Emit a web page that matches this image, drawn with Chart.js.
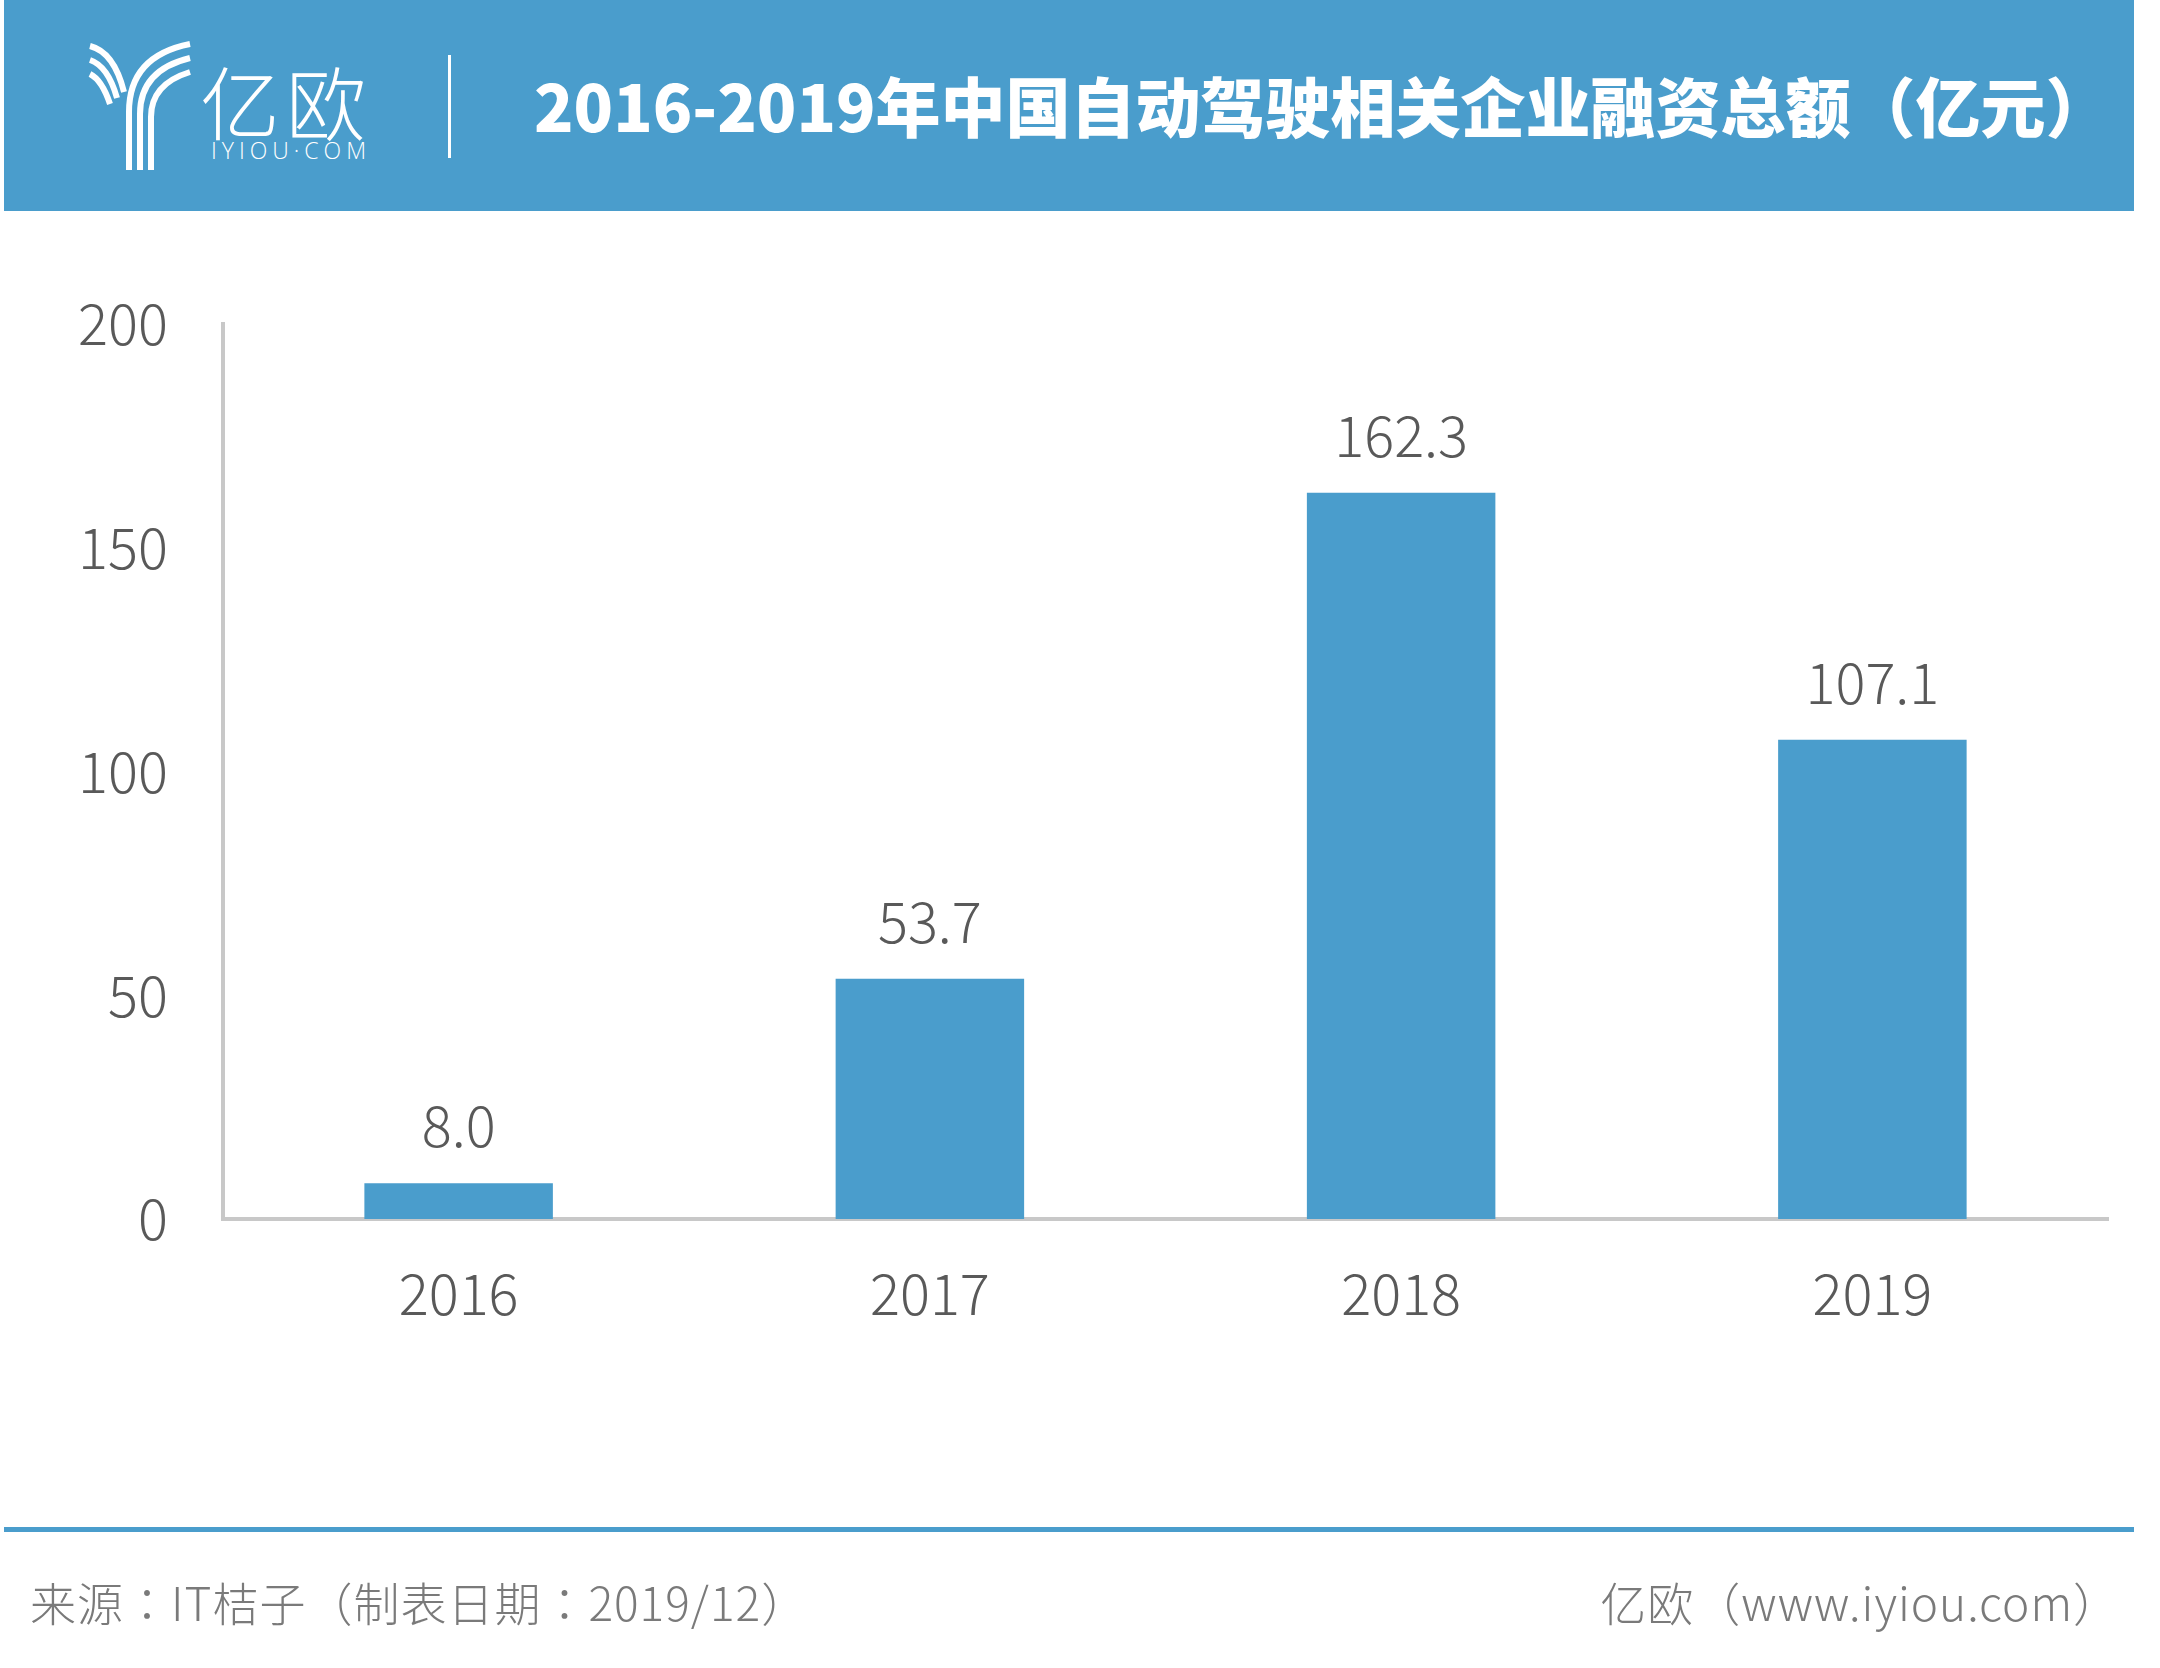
<!DOCTYPE html>
<html>
<head>
<meta charset="utf-8">
<script src="https://cdn.jsdelivr.net/npm/chart.js@4.4.0/dist/chart.umd.min.js"></script>
<style>
  html, body { margin: 0; padding: 0; background: #ffffff; }
  body { width: 2160px; height: 1668px; position: relative; overflow: hidden; font-family: "Noto Sans CJK SC", "Noto Sans", sans-serif; }
  #chartBox { position: absolute; left: 0; top: 0; width: 2160px; height: 1668px; }
  .header { position: absolute; left: 4px; top: 0; width: 2130px; height: 211px; background: #4a9dcc; }
  .logo-cn { position: absolute; left: 200px; top: 44px; font-size: 80px; font-weight: 200; color: #fff; letter-spacing: 6px; line-height: 110px; }
  .logo-en { position: absolute; left: 211px; top: 138px; font-size: 23px; font-weight: 300; color: #fff; letter-spacing: 5px; line-height: 24px; font-family: "Open Sans", sans-serif; }
  .divider { position: absolute; left: 448px; top: 55px; width: 3px; height: 103px; background: #fff; }
  .title { position: absolute; left: 534px; top: 59px; font-size: 65px; font-weight: 900; color: #fff; line-height: 90px; white-space: nowrap; }
  .foot-line { position: absolute; left: 4px; top: 1527px; width: 2130px; height: 5px; background: #4a9dcc; }
  .foot { position: absolute; top: 1572px; font-size: 46px; font-weight: 300; color: #7a7a7a; line-height: 58px; white-space: nowrap; font-family: "Noto Sans CJK TC", "Noto Sans CJK SC", sans-serif; }
</style>
</head>
<body>
<div id="chartBox"><canvas id="barChart"></canvas></div>
<div class="header"></div>
<svg style="position:absolute;left:0;top:0" width="2160" height="211">
  <g fill="none" stroke="#ffffff" stroke-width="6" stroke-linecap="butt">
    <path d="M 129 170 L 129 112 Q 129 56 190 44"/>
    <path d="M 140 170 L 140 114 Q 140 70 190 58"/>
    <path d="M 151 170 L 151 117 Q 151 84 190 72"/>
    <path d="M 90 46 Q 114 52 124 92"/>
    <path d="M 90 60 Q 108 66 117 98"/>
    <path d="M 90 74 Q 102 80 110 104"/>
  </g>
</svg>
<div class="logo-cn">亿欧</div>
<div class="logo-en">IYIOU·COM</div>
<div class="divider"></div>
<div class="title">2016-2019年中国自动驾驶相关企业融资总额（亿元）</div>
<div class="foot-line"></div>
<div class="foot" style="left:30px; letter-spacing: 1px">来源：IT桔子（制表日期：2019/12）</div>
<div class="foot" style="right:40px; letter-spacing: 1px">亿欧（www.iyiou.com）</div>

<script>
var years = ['2016', '2017', '2018', '2019'];
var amounts = [8.0, 53.7, 162.3, 107.1];
var yTicks = [0, 50, 100, 150, 200];

var barColor = '#4a9dcc';
var axisColor = '#c8c8c8';
var textColor = '#595959';
var numFont = '"Noto Sans CJK SC", "Open Sans", sans-serif';

// value labels over each bar
var valueLabels = {
    id: 'valueLabels',
    afterDatasetsDraw: function(chart) {
        var ctx = chart.ctx;
        var meta = chart.getDatasetMeta(0);
        ctx.save();
        ctx.fillStyle = textColor;
        ctx.font = '300 56px ' + numFont;
        ctx.textAlign = 'center';
        ctx.textBaseline = 'alphabetic';
        meta.data.forEach(function(bar, i) {
            ctx.fillText(amounts[i].toFixed(1), bar.x, bar.y - 36);
        });
        ctx.restore();
    }
};

function drawChart() {
    var ctx = document.getElementById('barChart').getContext('2d');
    var myChart = new Chart(ctx, {
        type: 'bar',
        data: {
            labels: years,
            datasets: [{
                data: amounts,
                backgroundColor: barColor,
                borderWidth: 0,
                categoryPercentage: 1.0,
                barPercentage: 0.40
            }]
        },
        options: {
            responsive: true,
            maintainAspectRatio: false,
            animation: false,
            layout: { padding: { top: 324, right: 52, bottom: 329, left: 0 } },
            plugins: {
                legend: { display: false },
                tooltip: { enabled: false }
            },
            scales: {
                x: {
                    grid: { display: false, drawTicks: false },
                    border: { display: true, color: axisColor, width: 4 },
                    ticks: {
                        color: textColor,
                        padding: 41,
                        font: { family: numFont, size: 56, weight: 300 }
                    },
                    afterFit: function(scale) { scale.height = 120; }
                },
                y: {
                    min: 0,
                    max: 200,
                    grid: { display: false, drawTicks: false },
                    border: { display: true, color: axisColor, width: 4 },
                    afterBuildTicks: function(scale) {
                        scale.ticks = yTicks.map(function(v) { return { value: v }; });
                    },
                    ticks: {
                        color: textColor,
                        padding: 55,
                        font: { family: numFont, size: 56, weight: 300 }
                    },
                    afterFit: function(scale) { scale.width = 223; }
                }
            }
        },
        plugins: [valueLabels]
    });
}

drawChart();
</script>
</body>
</html>
